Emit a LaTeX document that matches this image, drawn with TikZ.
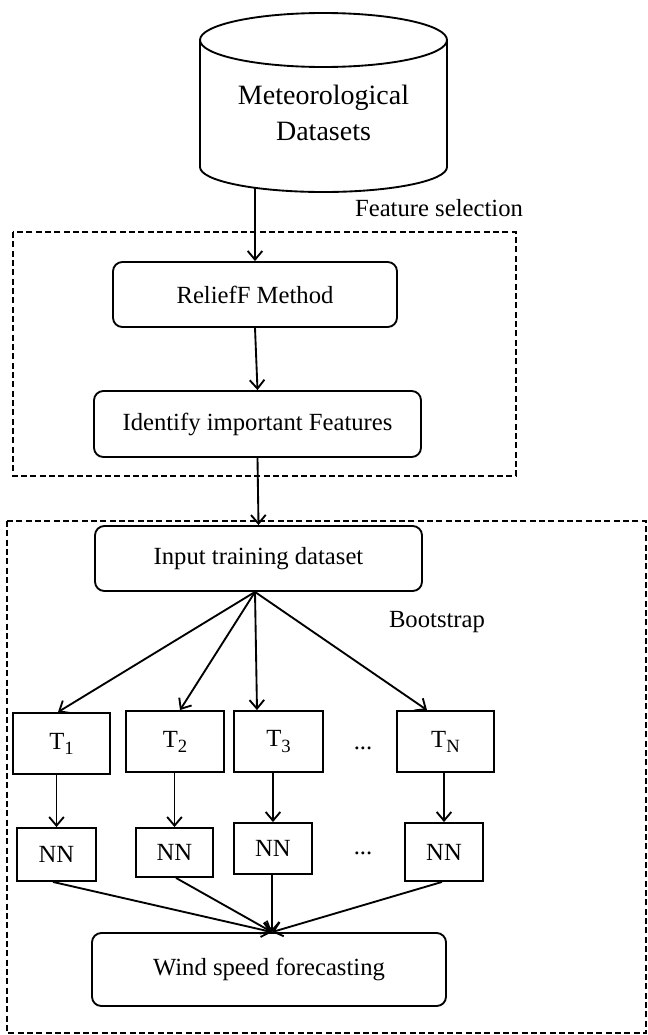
\documentclass[tikz,border=0pt]{standalone}
\usepackage{fontspec}
\setmainfont{Liberation Serif}
\usetikzlibrary{arrows.meta,calc}
\newcommand\tsub[1]{\raisebox{-0.45ex}{\fontsize{14}{14}\selectfont #1}}
\begin{document}
\begin{tikzpicture}[x=0.75pt,y=-0.75pt,
  every node/.style={font=\fontsize{18.5}{21}\selectfont},
  line/.style={line width=1.4pt},
  arr/.style={line width=1.4pt,-{Straight Barb[length=6.5pt,width=11pt,line width=1.4pt]}},
  rbox/.style={draw,line width=1.4pt,rounded corners=7pt,inner sep=0pt},
  sbox/.style={draw,line width=1.4pt,inner sep=0pt},
  dbox/.style={draw,line width=1.3pt,dash pattern=on 4.5pt off 2.5pt},
  w/.style={minimum width=#1*0.75pt},
  h/.style={minimum height=#1*0.75pt}]
\useasboundingbox (0,0) rectangle (648,1035);
% cylinder
\draw[line,fill=white] (200,40) -- (200,167) arc[start angle=180,end angle=0,x radius=123.5,y radius=25] -- (447,40);
\draw[line] (323.5,40) ellipse [x radius=123.5, y radius=27];
\node[align=center,font=\fontsize{21}{27}\selectfont] (db) at (323.5,113) {Meteorological\\Datasets};
\coordinate (dbout) at (255,188);
% dashed groups
\draw[dbox] (13,232) rectangle (516,476);
\draw[dbox] (7,521) rectangle (646,1033);
\node (fslabel) at (439,208) {Feature selection};
\node (bslabel) at (437,622) {Bootstrap};
% boxes
\node[rbox,w=284,h=65] (rf) at (255,294.5) {ReliefF Method};
\node[rbox,w=327,h=66] (id) at (257.5,424) {Identify important Features};
\node[rbox,w=327,h=65] (in) at (258.5,558.5) {Input training dataset};
\node[sbox,w=97,h=61] (t1) at (61.5,743.5) {T\tsub{1}};
\node[sbox,w=98,h=61] (t2) at (175,741.5) {T\tsub{2}};
\node[sbox,w=89,h=61] (t3) at (278.5,741.5) {T\tsub{3}};
\node[sbox,w=97,h=61] (tn) at (445.5,741.5) {T\tsub{N}};
\node (dots1) at (363,748) {...};
\node[sbox,w=79,h=53] (nn1) at (56.5,854.5) {NN};
\node[sbox,w=77,h=49] (nn2) at (174.5,852.5) {NN};
\node[sbox,w=78,h=51] (nn3) at (273,848.5) {NN};
\node[sbox,w=78,h=58] (nnn) at (444,852) {NN};
\node (dots2) at (363,853) {...};
\node[rbox,w=354,h=73] (wind) at (269,969.5) {Wind speed forecasting};
% connectors
\draw[arr] (dbout) -- (rf.north);
\draw[arr] (rf.south) -- (id.north);
\draw[arr] (id.south) -- (in.north);
\coordinate (split) at ($(in.south)+(-3.5,0)$);
\draw[arr] (split) -- ($(t1.north)+(-3.5,0)$);
\draw[arr] (split) -- ($(t2.north)+(5,0)$);
\draw[arr] (split) -- ($(t3.north)+(-21.5,0)$);
\draw[arr] (split) -- ($(tn.north)+(-18.5,0)$);
\draw[arr] (nn1.north |- t1.south) -- (nn1.north);
\draw[arr] (nn2.north |- t2.south) -- (nn2.north);
\draw[arr] (nn3.north |- t3.south) -- (nn3.north);
\draw[arr] (nnn.north |- tn.south) -- (nnn.north);
\coordinate (join) at ($(wind.north)+(3,0)$);
\draw[arr] ($(nn1.south)+(-3.5,0)$) -- (join);
\draw[arr] ($(nn2.south)+(1.5,0)$) -- (join);
\draw[arr] ($(nn3.south)+(-1,0)$) -- (join);
\draw[arr] ($(nnn.south)+(-2,0)$) -- (join);
\end{tikzpicture}
\end{document}
